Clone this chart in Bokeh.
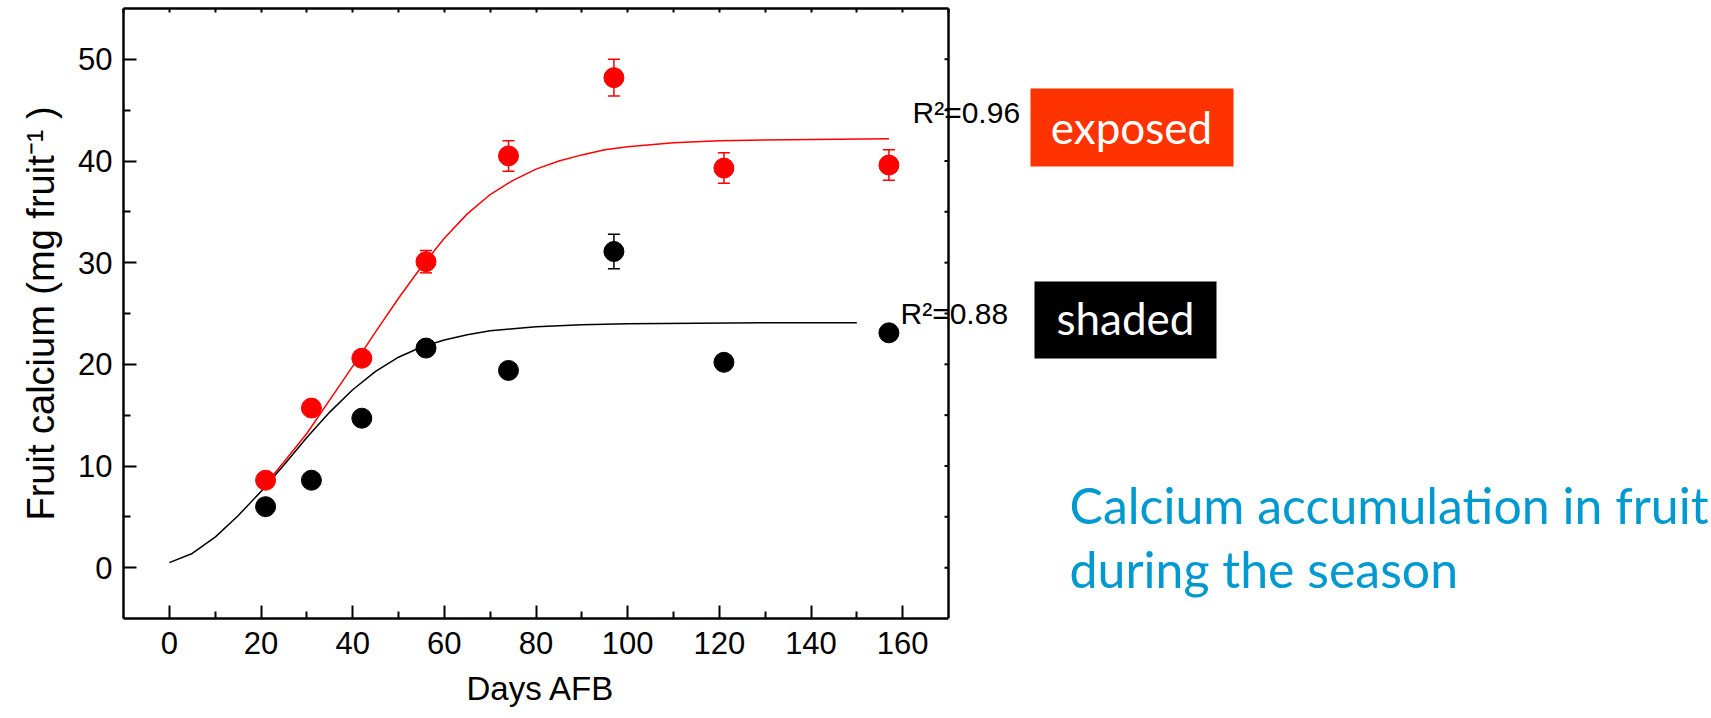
import numpy as np
from bokeh.plotting import figure
from bokeh.models import (FixedTicker, Whisker, TeeHead, ColumnDataSource,
                          Label, BoxAnnotation, Span, LinearAxis, Title)
from bokeh.embed import file_html
from bokeh.resources import INLINE

# ---------------- data ----------------
days = [21, 31, 42, 56, 74, 97, 121, 157]
exposed = [8.6, 15.7, 20.6, 30.1, 40.5, 48.2, 39.3, 39.6]
exposed_err = [0.4, 0.5, 0.6, 1.1, 1.5, 1.8, 1.5, 1.5]
shaded = [6.0, 8.6, 14.7, 21.6, 19.4, 31.1, 20.2, 23.1]
shaded_err = [0.3, 0.4, 0.5, 0.6, 0.5, 1.7, 0.6, 0.5]

exposed_fit_days = [21, 25, 30, 35, 40, 45, 50, 55, 60, 65, 70, 75, 80, 85, 90, 95,
                    100, 110, 120, 135, 157]
exposed_fit = [8.2, 10.4, 13.2, 16.5, 19.8, 23.2, 26.5, 29.6, 32.4, 34.8, 36.7, 38.1,
               39.2, 40.0, 40.6, 41.1, 41.4, 41.8, 42.0, 42.1, 42.2]
shaded_fit_days = [0, 5, 10, 15, 20, 25, 30, 35, 40, 45, 50, 55, 60, 65, 70, 75, 80,
                   90, 100, 115, 130, 150]
shaded_fit = [0.5, 1.4, 3.0, 5.1, 7.5, 10.1, 12.8, 15.3, 17.5, 19.3, 20.7, 21.7, 22.4,
              22.9, 23.3, 23.5, 23.7, 23.9, 24.0, 24.05, 24.1, 24.1]

x_ticks = [0, 20, 40, 60, 80, 100, 120, 140, 160]
x_minor = [10, 30, 50, 70, 90, 110, 130, 150]
y_ticks = [0, 10, 20, 30, 40, 50]
y_minor = [5, 15, 25, 35, 45]
top_ticks = [-10, 0, 10, 20, 30, 40, 50, 60, 70, 80, 90, 100, 110, 120, 130, 140, 150, 160, 170]
right_ticks = [0, 5, 10, 15, 20, 25, 30, 35, 40, 45, 50]

r2_exposed = "R²=0.96"
r2_shaded = "R²=0.88"
x_title = "Days AFB"
y_title = "Fruit calcium (mg fruit⁻¹ )"
caption = ["Calcium accumulation in fruit", "during the season"]

# ---------------- figure ----------------
X0, XB, Y0, Y1 = -10, 170, -5, 55          # chart box in data units
FL, FR, FT, FB = 123, 948, 8, 618          # chart box edges in page pixels
W, H = 1711, 718
PXD = (FR - FL) / (XB - X0)                # pixels per day
X1 = X0 + (W - FL) / PXD                   # frame runs to the page's right edge

def dx(sx):
    return X0 + (sx - FL) / PXD

def dy(sy):
    return Y1 - (sy - FT) * (Y1 - Y0) / (FB - FT)

p = figure(width=W, height=H, x_range=(X0, X1), y_range=(Y0, Y1),
           output_backend="svg", toolbar_location=None,
           min_border_left=FL, min_border_right=0,
           min_border_top=FT, min_border_bottom=H - FB)
p.outline_line_color = None
p.grid.visible = False
p.background_fill_color = "white"
p.border_fill_color = "white"

FONT = "Liberation Sans"
AXW = 2.5

xa = p.xaxis[0]
xa.ticker = FixedTicker(ticks=x_ticks, minor_ticks=x_minor)
xa.bounds = (X0, XB)
ya = p.yaxis[0]
ya.ticker = FixedTicker(ticks=y_ticks, minor_ticks=y_minor)
ya.axis_label = y_title
for ax in (xa, ya):
    ax.axis_line_width = AXW
    ax.axis_line_color = "black"
    ax.major_tick_in = 13
    ax.major_tick_out = 0
    ax.minor_tick_in = 7
    ax.minor_tick_out = 0
    ax.major_tick_line_width = 2
    ax.minor_tick_line_width = 2
    ax.major_label_text_font = FONT
    ax.major_label_text_font_size = "31px"
    ax.major_label_text_color = "black"
ya.axis_label_text_font = FONT
ya.axis_label_text_font_size = "38px"
ya.axis_label_text_font_style = "normal"
ya.axis_label_text_color = "black"
xa.major_label_standoff = 13
ya.major_label_standoff = 11
ya.axis_label_standoff = 13

# x-axis title, centred under the chart box (not under the whole frame)
p.add_layout(Title(text=x_title, align="left", offset=466 - FL, standoff=22,
                   text_font=FONT, text_font_size="33px", text_font_style="normal",
                   text_color="black"), "below")

# top border with small inward ticks
top = LinearAxis(ticker=FixedTicker(ticks=[], minor_ticks=top_ticks), bounds=(X0, XB),
                 major_tick_in=0, major_tick_out=0, minor_tick_in=4, minor_tick_out=0,
                 axis_line_width=AXW, minor_tick_line_width=2)
p.add_layout(top, "above")

# right border of the chart box with small inward ticks
p.add_layout(Span(location=XB, dimension="height", line_color="black", line_width=AXW))
p.ray(x=[XB] * len(right_ticks), y=right_ticks, length=4, length_units="screen",
      angle=np.pi, line_color="black", line_width=2)

# ---------------- fitted curves ----------------
p.line(exposed_fit_days, exposed_fit, line_color="red", line_width=1.5)
p.line(shaded_fit_days, shaded_fit, line_color="black", line_width=1.5)

# ---------------- error bars ----------------
def whisk(vals, errs, color):
    v = np.array(vals)
    e = np.array(errs)
    src = ColumnDataSource(dict(x=days, upper=v + e, lower=v - e))
    w = Whisker(source=src, base="x", upper="upper", lower="lower",
                line_color=color, line_width=1.5,
                upper_head=TeeHead(size=12, line_color=color, line_width=1.5),
                lower_head=TeeHead(size=12, line_color=color, line_width=1.5))
    w.level = "underlay"
    p.add_layout(w)

whisk(exposed, exposed_err, "red")
whisk(shaded, shaded_err, "black")

# ---------------- points ----------------
p.scatter(days, exposed, size=20, marker="circle", fill_color="red", line_color="red")
p.scatter(days, shaded, size=20, marker="circle", fill_color="black", line_color="black")

# ---------------- annotations ----------------
p.add_layout(Label(x=dx(912), y=dy(112), text=r2_exposed, text_font=FONT,
                   text_font_size="30px", text_color="black",
                   text_align="left", text_baseline="alphabetic"))
p.add_layout(Label(x=dx(900), y=dy(313), text=r2_shaded, text_font=FONT,
                   text_font_size="30px", text_color="black",
                   text_align="left", text_baseline="alphabetic"))

p.add_layout(BoxAnnotation(left=dx(1030), right=dx(1233), top=dy(88), bottom=dy(166),
                           fill_color="#FF3300", fill_alpha=1.0, line_alpha=0.0))
p.add_layout(BoxAnnotation(left=dx(1034), right=dx(1216), top=dy(281), bottom=dy(358),
                           fill_color="black", fill_alpha=1.0, line_alpha=0.0))
p.add_layout(Label(x=dx(1131), y=dy(126), text="exposed", text_font="Lato",
                   text_font_size="44px", text_color="white",
                   text_align="center", text_baseline="alphabetic"))
p.add_layout(Label(x=dx(1125), y=dy(317), text="shaded", text_font="Lato",
                   text_font_size="44px", text_color="white",
                   text_align="center", text_baseline="alphabetic"))

for i, line in enumerate(caption):
    p.add_layout(Label(x=dx(1069), y=dy(504 + 64 * i), text=line, text_font="Lato",
                       text_font_size="50px", text_color="#0099D0",
                       text_align="left", text_baseline="alphabetic"))

open("out.html", "w").write(file_html(p, INLINE))
